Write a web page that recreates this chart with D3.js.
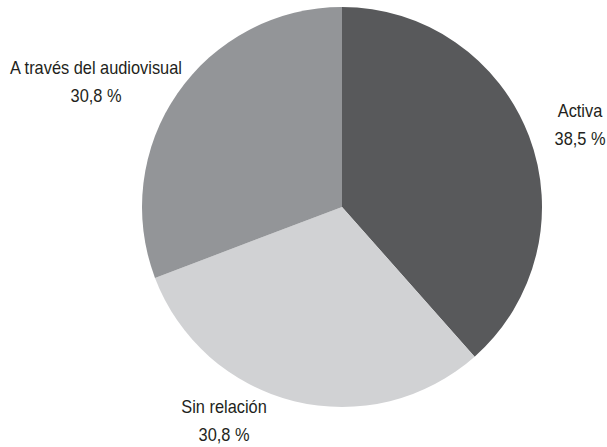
<!DOCTYPE html>
<html>
<head>
<meta charset="utf-8">
<script src="https://cdn.jsdelivr.net/npm/d3@7"></script>
<style>
  body { margin: 0; background: #fff; }
  text { font-family: "Liberation Sans", Arial, sans-serif; fill: #231f20; }
</style>
</head>
<body>
<svg id="chart" width="607" height="447"></svg>
<script>
const categories = ["Activa", "Sin relación", "A través del audiovisual"];
const values = [38.5, 30.8, 30.8];
const valueLabels = ["38,5 %", "30,8 %", "30,8 %"];
const colors = ["#58595b", "#d1d2d4", "#939598"];

const width = 607, height = 447;
const cx = 342, cy = 207, radius = 200;

const svg = d3.select("#chart");

const pie = d3.pie().sort(null).value(d => d.value);
const arc = d3.arc().innerRadius(0).outerRadius(radius);

const data = categories.map((c, i) => ({ name: c, value: values[i], label: valueLabels[i], color: colors[i] }));
const arcs = pie(data);

const g = svg.append("g").attr("transform", `translate(${cx},${cy})`);

g.selectAll("path")
  .data(arcs)
  .enter()
  .append("path")
  .attr("d", arc)
  .attr("fill", d => d.data.color);

// label spots outside the pie
const labelPos = [
  { x: 580, y: 117 },
  { x: 224, y: 413 },
  { x: 96, y: 74 }
];

const lab = svg.selectAll("text.lab")
  .data(arcs)
  .enter()
  .append("text")
  .attr("class", "lab")
  .attr("text-anchor", "middle")
  .attr("font-size", 18.5);

lab.append("tspan").attr("x", 0).attr("y", 0).text(d => d.data.name);
lab.append("tspan").attr("x", 0).attr("y", 28).text(d => d.data.label);

// the original uses a condensed face; squeeze horizontally to match
let longest = lab.filter((d, i) => i === 2).select("tspan").node().getComputedTextLength();
let sx = 172 / longest;
lab.attr("transform", (d, i) => `translate(${labelPos[i].x},${labelPos[i].y}) scale(${sx},1)`);
</script>
</body>
</html>
